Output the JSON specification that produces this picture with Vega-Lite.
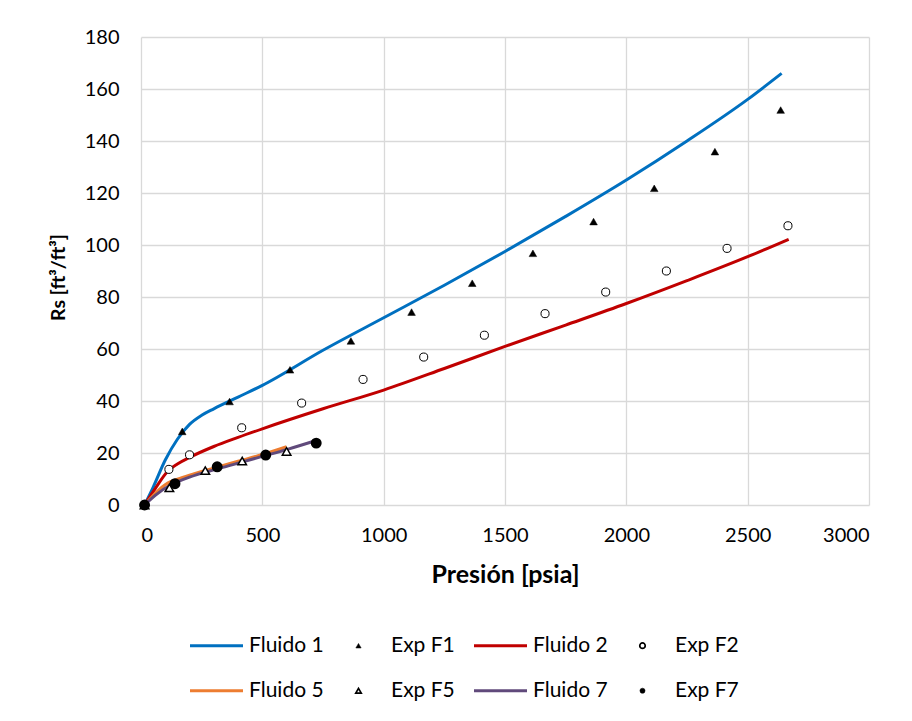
{
  "$schema": "https://vega.github.io/schema/vega-lite/v6.json",
  "width": 728,
  "height": 468,
  "autosize": {"type": "none"},
  "padding": {"left": 141, "top": 37, "right": 43, "bottom": 216},
  "background": "white",
  "datasets": {
    "lines": [
      {"serie": "Fluido 1", "p": 14.7, "rs": 0},
      {"serie": "Fluido 1", "p": 50, "rs": 6.8},
      {"serie": "Fluido 1", "p": 100, "rs": 17.3},
      {"serie": "Fluido 1", "p": 150, "rs": 25.3},
      {"serie": "Fluido 1", "p": 200, "rs": 31},
      {"serie": "Fluido 1", "p": 250, "rs": 34.5},
      {"serie": "Fluido 1", "p": 300, "rs": 37},
      {"serie": "Fluido 1", "p": 400, "rs": 41.5},
      {"serie": "Fluido 1", "p": 500, "rs": 46},
      {"serie": "Fluido 1", "p": 750, "rs": 59.5},
      {"serie": "Fluido 1", "p": 1000, "rs": 72},
      {"serie": "Fluido 1", "p": 1250, "rs": 84.5},
      {"serie": "Fluido 1", "p": 1500, "rs": 97.5},
      {"serie": "Fluido 1", "p": 1750, "rs": 111},
      {"serie": "Fluido 1", "p": 2000, "rs": 125},
      {"serie": "Fluido 1", "p": 2250, "rs": 140},
      {"serie": "Fluido 1", "p": 2500, "rs": 156},
      {"serie": "Fluido 1", "p": 2640, "rs": 166},
      {"serie": "Fluido 2", "p": 14.7, "rs": 0},
      {"serie": "Fluido 2", "p": 60, "rs": 6.5},
      {"serie": "Fluido 2", "p": 110, "rs": 13},
      {"serie": "Fluido 2", "p": 150, "rs": 15.8},
      {"serie": "Fluido 2", "p": 200, "rs": 18.3},
      {"serie": "Fluido 2", "p": 300, "rs": 22.5},
      {"serie": "Fluido 2", "p": 400, "rs": 26},
      {"serie": "Fluido 2", "p": 500, "rs": 29.3},
      {"serie": "Fluido 2", "p": 750, "rs": 37},
      {"serie": "Fluido 2", "p": 1000, "rs": 44.2},
      {"serie": "Fluido 2", "p": 1250, "rs": 52.5},
      {"serie": "Fluido 2", "p": 1500, "rs": 61},
      {"serie": "Fluido 2", "p": 1750, "rs": 69.2},
      {"serie": "Fluido 2", "p": 2000, "rs": 77.5},
      {"serie": "Fluido 2", "p": 2250, "rs": 86.3},
      {"serie": "Fluido 2", "p": 2500, "rs": 95.5},
      {"serie": "Fluido 2", "p": 2669, "rs": 102.2},
      {"serie": "Fluido 5", "p": 14.7, "rs": 0},
      {"serie": "Fluido 5", "p": 60, "rs": 4.6},
      {"serie": "Fluido 5", "p": 110, "rs": 8.4},
      {"serie": "Fluido 5", "p": 150, "rs": 9.9},
      {"serie": "Fluido 5", "p": 200, "rs": 11.5},
      {"serie": "Fluido 5", "p": 300, "rs": 14.2},
      {"serie": "Fluido 5", "p": 400, "rs": 16.8},
      {"serie": "Fluido 5", "p": 500, "rs": 19.4},
      {"serie": "Fluido 5", "p": 600, "rs": 22.4},
      {"serie": "Fluido 7", "p": 14.7, "rs": 0},
      {"serie": "Fluido 7", "p": 60, "rs": 3.8},
      {"serie": "Fluido 7", "p": 120, "rs": 7.6},
      {"serie": "Fluido 7", "p": 150, "rs": 8.9},
      {"serie": "Fluido 7", "p": 200, "rs": 10.7},
      {"serie": "Fluido 7", "p": 300, "rs": 13.5},
      {"serie": "Fluido 7", "p": 400, "rs": 16.1},
      {"serie": "Fluido 7", "p": 500, "rs": 18.7},
      {"serie": "Fluido 7", "p": 600, "rs": 21.3},
      {"serie": "Fluido 7", "p": 722, "rs": 24.8}
    ],
    "points": [
      {"serie": "Exp F1", "p": 14.7, "rs": 0},
      {"serie": "Exp F1", "p": 170, "rs": 28.3},
      {"serie": "Exp F1", "p": 365, "rs": 39.8},
      {"serie": "Exp F1", "p": 614, "rs": 52},
      {"serie": "Exp F1", "p": 865, "rs": 63.1},
      {"serie": "Exp F1", "p": 1115, "rs": 74.2},
      {"serie": "Exp F1", "p": 1365, "rs": 85.3},
      {"serie": "Exp F1", "p": 1615, "rs": 96.8},
      {"serie": "Exp F1", "p": 1865, "rs": 109},
      {"serie": "Exp F1", "p": 2115, "rs": 121.8},
      {"serie": "Exp F1", "p": 2365, "rs": 135.9},
      {"serie": "Exp F1", "p": 2636, "rs": 151.9},
      {"serie": "Exp F2", "p": 14.7, "rs": 0},
      {"serie": "Exp F2", "p": 115, "rs": 13.7},
      {"serie": "Exp F2", "p": 200, "rs": 19.3},
      {"serie": "Exp F2", "p": 415, "rs": 29.7},
      {"serie": "Exp F2", "p": 662, "rs": 39.2},
      {"serie": "Exp F2", "p": 915, "rs": 48.3},
      {"serie": "Exp F2", "p": 1165, "rs": 56.9},
      {"serie": "Exp F2", "p": 1415, "rs": 65.3},
      {"serie": "Exp F2", "p": 1665, "rs": 73.6},
      {"serie": "Exp F2", "p": 1915, "rs": 81.9},
      {"serie": "Exp F2", "p": 2165, "rs": 90},
      {"serie": "Exp F2", "p": 2415, "rs": 98.7},
      {"serie": "Exp F2", "p": 2666, "rs": 107.4},
      {"serie": "Exp F5", "p": 14.7, "rs": 0},
      {"serie": "Exp F5", "p": 117, "rs": 6.6},
      {"serie": "Exp F5", "p": 265, "rs": 13.2},
      {"serie": "Exp F5", "p": 417, "rs": 16.9},
      {"serie": "Exp F5", "p": 600, "rs": 20.6},
      {"serie": "Exp F7", "p": 14.7, "rs": 0},
      {"serie": "Exp F7", "p": 140, "rs": 8.2},
      {"serie": "Exp F7", "p": 314, "rs": 14.7},
      {"serie": "Exp F7", "p": 514, "rs": 19.2},
      {"serie": "Exp F7", "p": 722, "rs": 23.8}
    ]
  },
  "encoding": {
    "x": {
      "field": "p", "type": "quantitative",
      "scale": {"domain": [0, 3000], "nice": false, "zero": false},
      "axis": {"values": [0, 500, 1000, 1500, 2000, 2500, 3000], "format": "d", "title": "Presión [psia]", "labelPadding": 20, "titlePadding": 17, "titleFontSize": 25}
    },
    "y": {
      "field": "rs", "type": "quantitative",
      "scale": {"domain": [0, 180], "nice": false, "zero": false},
      "axis": {"values": [0, 20, 40, 60, 80, 100, 120, 140, 160, 180], "title": "Rs [ft³/ft³]", "labelPadding": 22, "titlePadding": 16, "titleFontSize": 19.5, "titleY": 240}
    }
  },
  "layer": [
    {
      "data": {"name": "lines"},
      "mark": {"type": "line", "strokeWidth": 3, "interpolate": "monotone"},
      "encoding": {
        "detail": {"field": "serie"},
        "color": {
          "field": "serie", "type": "nominal",
          "scale": {
            "domain": ["Fluido 1", "Exp F1", "Fluido 2", "Exp F2", "Fluido 5", "Exp F5", "Fluido 7", "Exp F7"],
            "range": ["#0070C0", "#000000", "#C00000", "#000000", "#ED7D31", "#000000", "#604A7B", "#000000"]
          },
          "legend": {
            "title": null,
            "orient": "none",
            "legendX": 49,
            "legendY": 596.7,
            "direction": "horizontal",
            "columns": 4,
            "gridAlign": "all",
            "columnPadding": 8,
            "rowPadding": 21,
            "clipHeight": 24,
            "padding": 0,
            "symbolOffset": 16,
            "labelOffset": 22,
            "labelFont": "Lato",
            "labelFontSize": 21,
            "labelColor": "#000000",
            "labelLimit": 300,
            "symbolType": "stroke",
            "symbolSize": 25,
            "symbolStrokeWidth": 3,
            "encode": {
              "symbols": {
                "update": {
                  "shape": {"signal": "indexof(['Exp F1','Exp F5'], datum.value) >= 0 ? 'triangle-up' : (indexof(['Exp F2','Exp F7'], datum.value) >= 0 ? 'circle' : 'M-10.6,0H10.6')"},
                  "size": {"signal": "datum.value == 'Exp F1' ? 28 : (datum.value == 'Exp F5' ? 30 : (datum.value == 'Exp F2' ? 30 : (datum.value == 'Exp F7' ? 26 : 25)))"},
                  "fill": {"signal": "indexof(['Exp F1','Exp F7'], datum.value) >= 0 ? 'black' : (indexof(['Exp F2','Exp F5'], datum.value) >= 0 ? 'white' : 'transparent')"},
                  "strokeWidth": {"signal": "indexof(['Exp F1','Exp F7'], datum.value) >= 0 ? 0.5 : (indexof(['Exp F2','Exp F5'], datum.value) >= 0 ? 1.7 : 3)"},
                  "opacity": {"value": 1}
                }
              }
            }
          }
        }
      }
    },
    {
      "data": {"name": "points"},
      "mark": {"type": "point", "stroke": "#000000", "opacity": 1},
      "encoding": {
        "shape": {
          "field": "serie", "type": "nominal",
          "scale": {"domain": ["Exp F1", "Exp F2", "Exp F5", "Exp F7"], "range": ["triangle-up", "circle", "triangle-up", "circle"]},
          "legend": null
        },
        "fill": {
          "field": "serie", "type": "nominal",
          "scale": {"domain": ["Exp F1", "Exp F2", "Exp F5", "Exp F7"], "range": ["#000000", "#ffffff", "#ffffff", "#000000"]},
          "legend": null
        },
        "size": {
          "field": "serie", "type": "nominal",
          "scale": {"domain": ["Exp F1", "Exp F2", "Exp F5", "Exp F7"], "range": [58, 80, 62, 45]},
          "legend": null
        },
        "strokeWidth": {
          "field": "serie", "type": "nominal",
          "scale": {"domain": ["Exp F1", "Exp F2", "Exp F5", "Exp F7"], "range": [0.5, 2, 1.7, 0.5]},
          "legend": null
        }
      }
    }
  ],
  "config": {
    "font": "Lato",
    "view": {"stroke": null},
    "axis": {
      "domain": false,
      "ticks": false,
      "grid": true,
      "gridColor": "#d9d9d9",
      "gridWidth": 1.3,
      "labelFont": "Lato",
      "labelFontSize": 20,
      "labelColor": "#000000",
      "titleFont": "Lato",
      "titleFontWeight": "bold",
      "titleColor": "#000000"
    }
  }
}
